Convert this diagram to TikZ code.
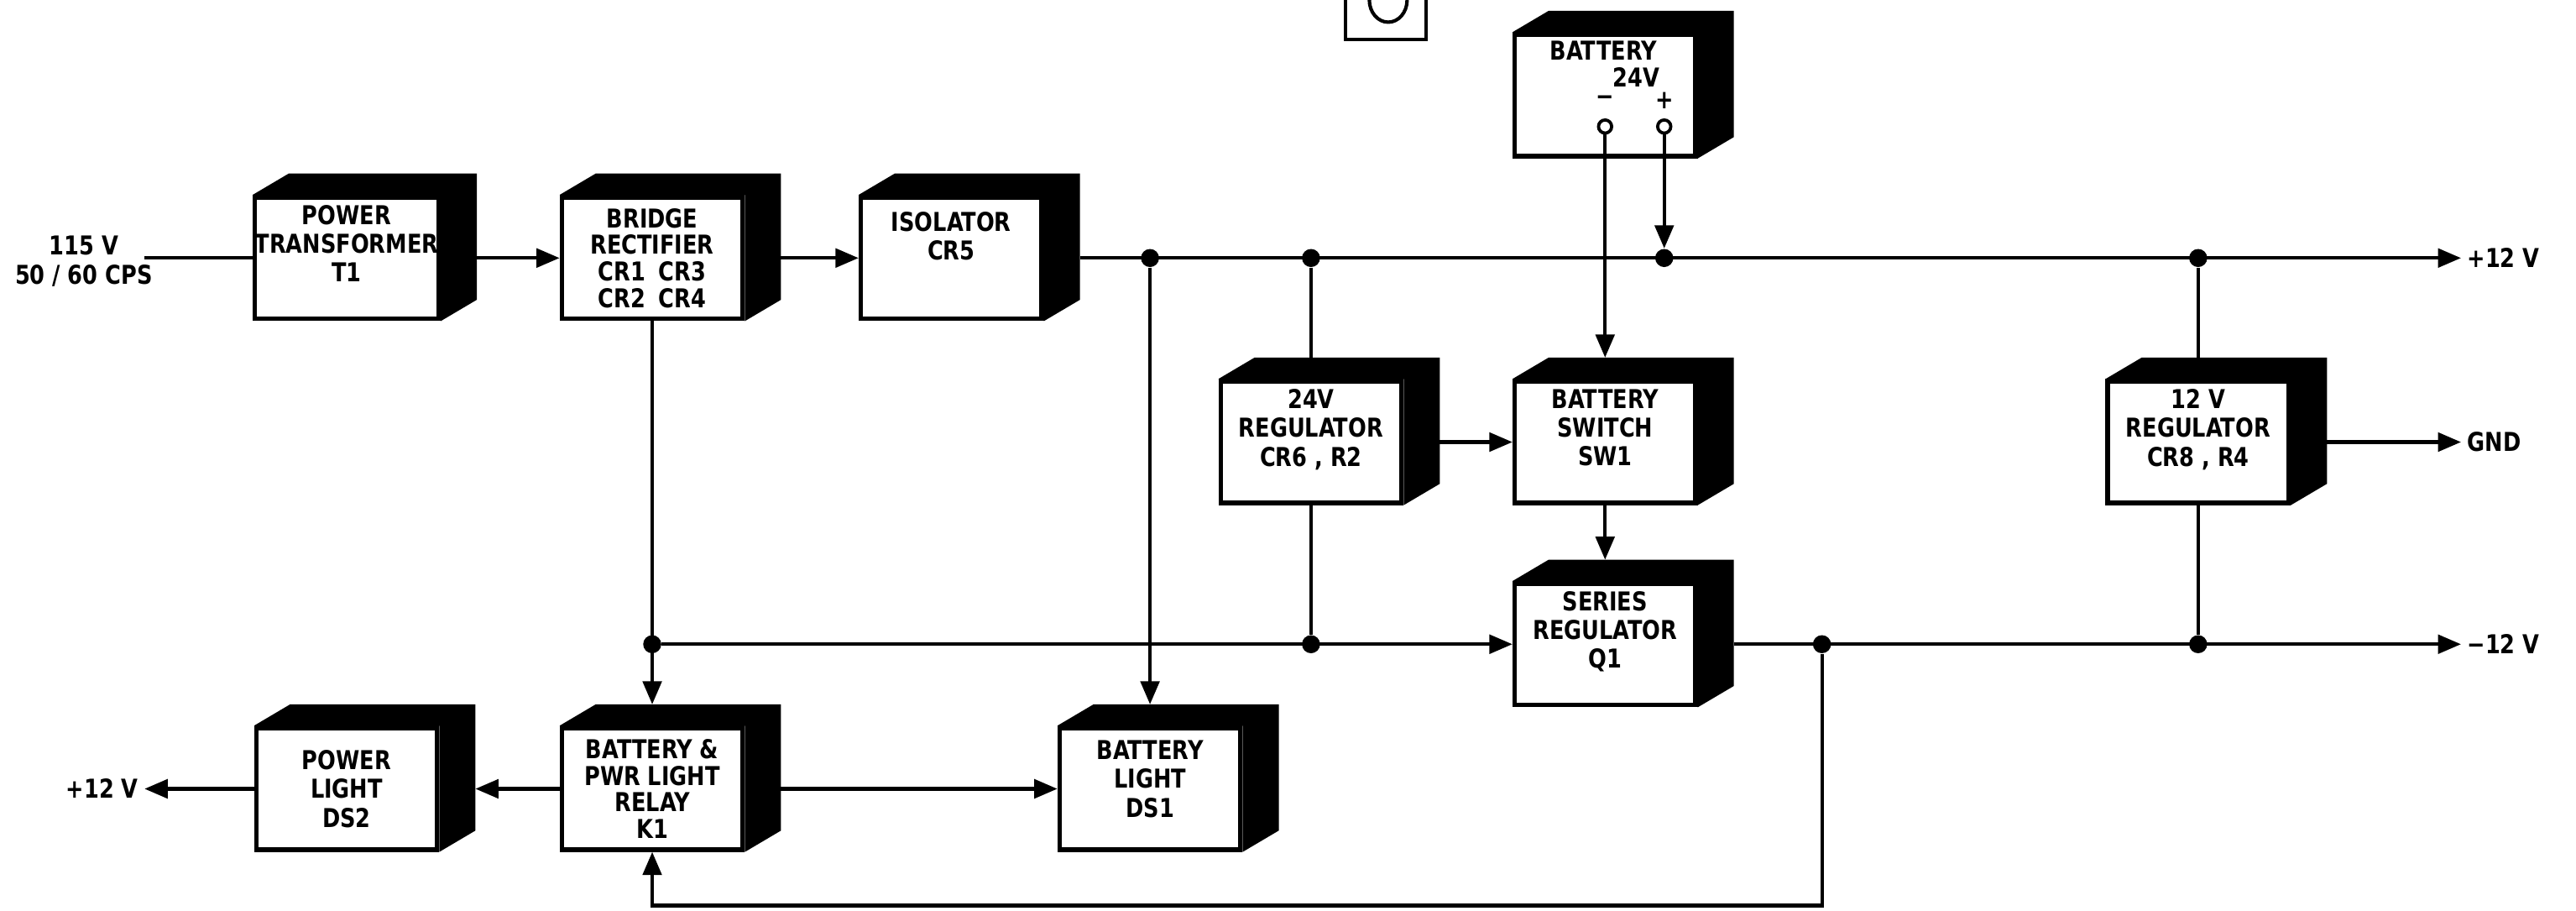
\documentclass[tikz,border=0pt]{standalone}
\usepackage{fontspec}
\setmainfont[FakeStretch=0.92]{DejaVu Sans Condensed}
\usetikzlibrary{arrows.meta}

\begin{document}
\begin{tikzpicture}[
    x=0.02cm, y=-0.02cm,
    font=\fontsize{9}{10}\selectfont\bfseries,
    blocco/.style={rectangle,draw,line width=1.6pt,fill=white,align=center,
                   inner sep=0pt,minimum width=2.2cm,minimum height=1.48cm},
    fitto/.style={font=\fontsize{9}{9.2}\selectfont\bfseries},
    filo/.style={line width=1.2pt},
    freccia/.style={filo,-{Triangle[length=8pt,width=6.5pt]}},
    punto/.style={circle,fill,inner sep=0pt,minimum size=0.22cm},
    morsetto/.style={circle,draw,line width=1.1pt,fill=white,
                     inner sep=0pt,minimum size=0.16cm},
    uscita/.style={inner sep=2pt}]

  \useasboundingbox (0,0) rectangle (1568,554);

  % --- frammento del riquadro in alto ---
  \draw[line width=1.3pt] (819,-10) rectangle (868,24);
  \draw[filo] (845,0) ellipse [x radius=11.5, y radius=13.5];

  % --- i blocchi ---
  \node[blocco] (pt)    at (211,157) {POWER\\TRANSFORMER\\T1\\};
  \node[blocco,fitto] (br) at (397,157) {BRIDGE\\RECTIFIER\\CR1\enspace CR3\\CR2\enspace CR4};
  \node[blocco] (iso)   at (579,157) {ISOLATOR\\CR5\\[5.4pt]};
  \node[blocco] (bat)   at (977,58)  {};
  \node[blocco] (reg24) at (798,269) {24V\\REGULATOR\\CR6 , R2\\};
  \node[blocco] (sw)    at (977,269) {BATTERY\\SWITCH\\SW1\\};
  \node[blocco] (ser)   at (977,392) {SERIES\\REGULATOR\\Q1\\};
  \node[blocco] (reg12) at (1338,269) {12 V\\REGULATOR\\CR8 , R4\\};
  \node[blocco] (pl)    at (211,480) {POWER\\LIGHT\\DS2};
  \node[blocco,fitto] (rel) at (397,480) {BATTERY \&\\PWR LIGHT\\RELAY\\K1};
  \node[blocco] (bl)    at (700,480) {BATTERY\\LIGHT\\DS1\\[-3pt]};

  % --- il fianco nero di ogni blocco ---
  \foreach \b in {pt,br,iso,bat,reg24,sw,ser,reg12,pl,rel,bl}{
    \fill (\b.north west) -- ++(22,-13) -- ([shift={(22,-13)}]\b.north east)
      -- ([shift={(22,-13)}]\b.south east) -- (\b.south east)
      -- (\b.north east) -- cycle;
  }

  % --- la batteria e i suoi morsetti ---
  \node (battnome) at (976,31) {BATTERY};
  \node (battv)    at (996,47) {24V};
  \node (meno)     at (977,61) {−};
  \node (piu)      at (1013,61) {+};
  \node[morsetto] (bneg) at (977,77) {};
  \node[morsetto] (bpos) at (1013,77) {};

  % --- ingressi e uscite ---
  \coordinate (ingresso) at (88,157);
  \node[align=center] (rete) at (51,159) {115 V\\50 / 60 CPS};
  \node[uscita,anchor=west] (piu12)  at (1498,157) {+12 V};
  \node[uscita,anchor=west] (gnd)    at (1498,269) {GND};
  \node[uscita,anchor=west] (meno12) at (1498,392) {−12 V};
  \node[uscita,anchor=east] (spia12) at (88,480) {+12 V};

  % --- i nodi di giunzione ---
  \node[punto] (d1) at (700,157) {};
  \node[punto] (d2) at (798,157) {};
  \node[punto] (d3) at (1013,157) {};
  \node[punto] (d4) at (1338,157) {};
  \node[punto] (d5) at (397,392) {};
  \node[punto] (d6) at (798,392) {};
  \node[punto] (d7) at (1109,392) {};
  \node[punto] (d8) at (1338,392) {};

  % --- la catena di alimentazione ---
  \draw[filo] (ingresso) -- (pt.west);
  \draw[freccia] ([xshift=0.44cm]pt.east) -- (br.west);
  \draw[freccia] ([xshift=0.44cm]br.east) -- (iso.west);
  \draw[freccia] ([xshift=0.44cm]iso.east) -- (piu12.west);
  \draw[freccia] (bpos) -- (d3.north);

  % --- regolatori e interruttore ---
  \draw[filo] (d2) -- ([yshift=0.26cm]reg24.north);
  \draw[filo] (reg24.south) -- (d6);
  \draw[freccia] ([xshift=0.44cm]reg24.east) -- (sw.west);
  \draw[freccia] (bneg) -- ([yshift=0.26cm]sw.north);
  \draw[freccia] (sw.south) -- ([yshift=0.26cm]ser.north);
  \draw[filo] (d4) -- ([yshift=0.26cm]reg12.north);
  \draw[filo] (reg12.south) -- (d8);
  \draw[freccia] ([xshift=0.44cm]reg12.east) -- (gnd.west);

  % --- la linea negativa ---
  \draw[freccia] (d5) -- (ser.west);
  \draw[freccia] ([xshift=0.44cm]ser.east) -- (meno12.west);

  % --- rele' e spie ---
  \draw[freccia] (br.south) -- ([yshift=0.26cm]rel.north);
  \draw[freccia] (d1) -- ([yshift=0.26cm]bl.north);
  \draw[freccia] (rel.west) -- ([xshift=0.44cm]pl.east);
  \draw[freccia] (pl.west) -- (spia12.east);
  \draw[freccia] ([xshift=0.44cm]rel.east) -- (bl.west);
  \draw[freccia] (d7) -- ++(0,159) -| (rel.south);

\end{tikzpicture}
\end{document}
